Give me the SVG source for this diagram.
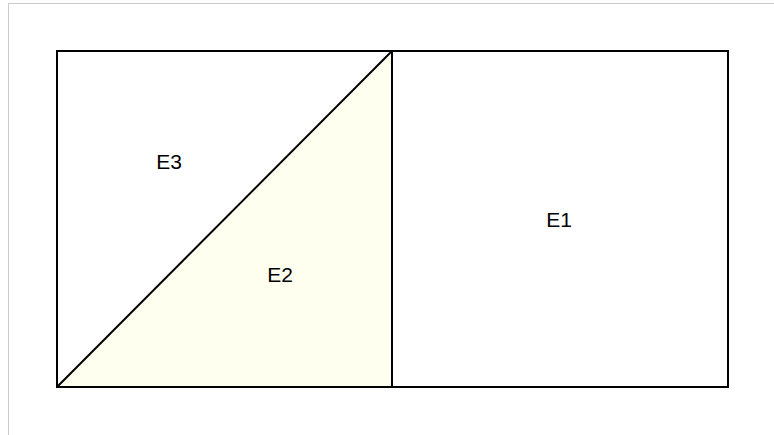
<svg xmlns="http://www.w3.org/2000/svg" width="774" height="435" viewBox="0 0 774 435">
<style>
.edge{fill:none;stroke:#000;stroke-width:2}
.lbl{font-family:"Liberation Sans",Arial,sans-serif;font-size:21px;fill:#000;text-anchor:middle}
</style>
<rect x="8.5" y="3.5" width="800" height="500" fill="#fff" stroke="#999" stroke-width="1" stroke-dasharray="1,1"/>
<g id="E2">
<polygon points="57,387 392,51 392,387" fill="#fffff0"/>
<text class="lbl" x="280" y="282">E2</text>
</g>
<g id="E3">
<text class="lbl" x="169" y="169">E3</text>
</g>
<g id="E1">
<text class="lbl" x="559" y="227">E1</text>
</g>
<g id="edges">
<rect class="edge" x="57" y="51" width="671" height="336"/>
<line class="edge" x1="392" y1="51" x2="392" y2="387"/>
<line class="edge" x1="57" y1="387" x2="392" y2="51"/>
</g>
</svg>
